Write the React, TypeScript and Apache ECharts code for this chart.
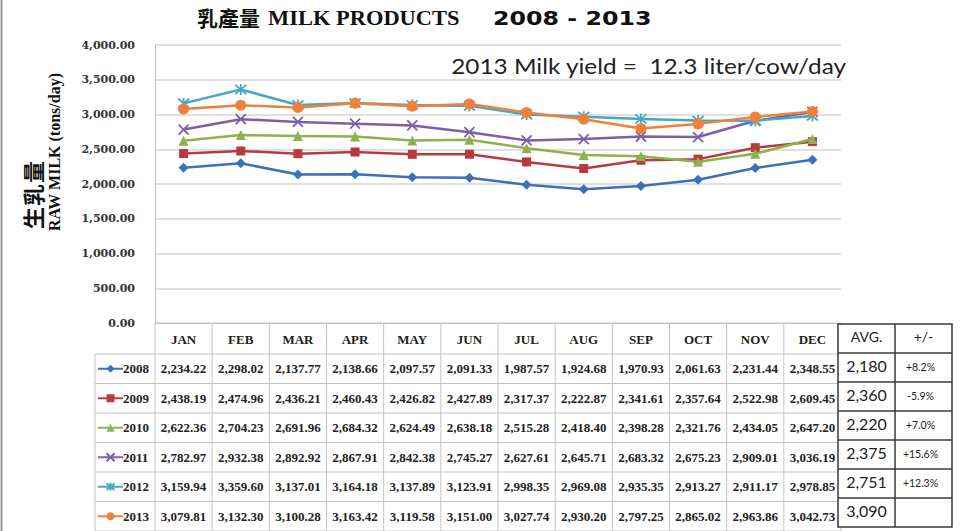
import React, { useEffect, useRef } from "react";
import * as echarts from "echarts";

const months = ["JAN", "FEB", "MAR", "APR", "MAY", "JUN", "JUL", "AUG", "SEP", "OCT", "NOV", "DEC"];
const years = ["2008", "2009", "2010", "2011", "2012", "2013"];
const s2008 = [2234.22, 2298.02, 2137.77, 2138.66, 2097.57, 2091.33, 1987.57, 1924.68, 1970.93, 2061.63, 2231.44, 2348.55];
const s2009 = [2438.19, 2474.96, 2436.21, 2460.43, 2426.82, 2427.89, 2317.37, 2222.87, 2341.61, 2357.64, 2522.98, 2609.45];
const s2010 = [2622.36, 2704.23, 2691.96, 2684.32, 2624.49, 2638.18, 2515.28, 2418.40, 2398.28, 2321.76, 2434.05, 2647.20];
const s2011 = [2782.97, 2932.38, 2892.92, 2867.91, 2842.38, 2745.27, 2627.61, 2645.71, 2683.32, 2675.23, 2909.01, 3036.19];
const s2012 = [3159.94, 3359.60, 3137.01, 3164.18, 3137.89, 3123.91, 2998.35, 2969.08, 2935.35, 2913.27, 2911.17, 2978.85];
const s2013 = [3079.81, 3132.30, 3100.28, 3163.42, 3119.58, 3151.00, 3027.74, 2930.20, 2797.25, 2865.02, 2963.86, 3042.73];
const seriesValues = [s2008, s2009, s2010, s2011, s2012, s2013];
const avgValues = [2180, 2360, 2220, 2375, 2751, 3090];
const changes = ["+8.2%", "-5.9%", "+7.0%", "+15.6%", "+12.3%", ""];
const yMin = 0;
const yMax = 4000;
const yInterval = 500;

const titleCn = "乳產量";
const titleEn = "MILK PRODUCTS";
const titleYears = "2008 - 2013";
const yNameCn = "生乳量";
const yNameEn = "RAW MILK (tons/day)";
const noteText = "2013 Milk yield =  12.3 liter/cow/day";
const avgHeader = "AVG.";
const changeHeader = "+/-";

const colors = ["#3F6FB7", "#B83A40", "#8DB14F", "#7C5FA8", "#45A9C3", "#F0803C"];
const xPath = "path://M0,0L10,10M10,0L0,10";
const starPath = "path://M0,0L10,10M10,0L0,10M5,-1L5,11";
const symbols = ["diamond", "rect", "triangle", xPath, starPath, "circle"];
const symbolSizes = [10, 9, 10, 10, 11, 11];

const W = 961;
const H = 531;
const GRID_LEFT = 155;
const GRID_RIGHT_X = 841;
const GRID_TOP = 45;
const GRID_BOTTOM_Y = 323;
const HEADER_H = 31;
const ROW_H = 29.5;
const LEGEND_LEFT = 95;
const BOX_LEFT = 838;
const BOX_MID = 895;
const BOX_RIGHT = 952;
const BOX_TOP = 324;
const BOX_ROW = 29;

const serif = "'Liberation Serif', 'Times New Roman', serif";
const wideSerif = "'DejaVu Serif', serif";
const sans = "Lato, 'Open Sans', sans-serif";
const cjk = "'Noto Sans CJK TC', 'Noto Sans CJK SC', sans-serif";
const gridGray = "#c4c4c4";

function fmt2(v: number) {
  return v.toLocaleString("en-US", { minimumFractionDigits: 2, maximumFractionDigits: 2 });
}

function txt(x: number, y: number, text: string, font: any, extra: any = {}) {
  return {
    type: "text",
    x,
    y,
    silent: true,
    z: 100,
    ...extra,
    style: {
      text,
      fill: font.fill || "#222",
      fontSize: font.size,
      fontFamily: font.family,
      fontWeight: font.weight || "normal",
      align: font.align || "center",
      textAlign: font.align || "center",
      verticalAlign: "middle",
      textVerticalAlign: "middle",
    },
  };
}

function ln(x1: number, y1: number, x2: number, y2: number, stroke: string, lineWidth: number) {
  return { type: "line", silent: true, z: 90, shape: { x1, y1, x2, y2 }, style: { stroke, lineWidth } };
}

export default function App() {
  const ref = useRef<HTMLDivElement>(null);
  useEffect(() => {
    document.body.style.margin = "0";
    const el = ref.current!;
    const chart = echarts.init(el, null, { renderer: "svg" });
    const headerBottom = GRID_BOTTOM_Y + HEADER_H;
    const option: any = {
      animation: false,
      backgroundColor: "#ffffff",
      grid: { left: GRID_LEFT, right: W - GRID_RIGHT_X, top: GRID_TOP, bottom: H - GRID_BOTTOM_Y, containLabel: false },
      legend: {
        orient: "vertical",
        left: LEGEND_LEFT + 2,
        top: headerBottom + (ROW_H - 14) / 2,
        padding: 0,
        itemWidth: 25,
        itemHeight: 10,
        itemGap: ROW_H - 14,
        selectedMode: false,
        textStyle: { fontFamily: serif, fontWeight: "bold", fontSize: 13, lineHeight: 14, color: "#222", padding: [0, 0, 0, -5] },
        data: years,
      },
      xAxis: {
        type: "category",
        data: months,
        boundaryGap: true,
        axisLine: { show: true, lineStyle: { color: gridGray, width: 1 } },
        axisTick: { show: false },
        axisLabel: { show: false },
      },
      yAxis: {
        type: "value",
        min: yMin,
        max: yMax,
        interval: yInterval,
        axisLine: { show: true, lineStyle: { color: gridGray, width: 1 } },
        axisTick: { show: false },
        splitLine: { show: true, lineStyle: { color: "#d6d6d6", width: 1.5 } },
        axisLabel: {
          margin: 20,
          formatter: (v: number) => fmt2(v),
          fontFamily: wideSerif,
          fontWeight: "bold",
          fontSize: 11,
          color: "#333",
        },
      },
      series: years.map((y, i) => ({
        name: y,
        type: "line",
        data: seriesValues[i],
        symbol: symbols[i],
        symbolSize: symbolSizes[i],
        showAllSymbol: true,
        lineStyle: { color: colors[i], width: 2.5 },
        itemStyle: { color: colors[i], borderColor: colors[i], borderWidth: i === 3 || i === 4 ? 1.8 : 0 },
        z: 2 + i,
      })),
    };
    chart.setOption(option);

    const colX = months.map((m, i) => chart.convertToPixel({ xAxisIndex: 0 }, i) as number);
    const half = (colX[1] - colX[0]) / 2;
    const g: any[] = [];

    // page left border
    g.push(ln(1.5, 0, 1.5, H, "#9c9c9c", 2));

    // table grid
    for (let i = 0; i <= months.length; i++) {
      const x = i < months.length ? colX[i] - half : colX[months.length - 1] + half;
      g.push(ln(x, GRID_BOTTOM_Y, x, H, gridGray, 1));
    }
    g.push(ln(LEGEND_LEFT, headerBottom, LEGEND_LEFT, H, gridGray, 1));
    for (let r = 0; r <= years.length; r++) {
      const y = headerBottom + r * ROW_H;
      g.push(ln(LEGEND_LEFT, y, colX[months.length - 1] + half, y, gridGray, 1));
    }
    // month header
    months.forEach((m, i) => {
      g.push(txt(colX[i], GRID_BOTTOM_Y + HEADER_H / 2 + 1, m, { size: 13, family: serif, weight: "bold" }));
    });
    // values
    seriesValues.forEach((vals, r) => {
      const yc = headerBottom + r * ROW_H + ROW_H / 2;
      vals.forEach((v, i) => {
        g.push(txt(colX[i], yc, fmt2(v), { size: 13, family: serif, weight: "bold" }));
      });
    });

    // AVG box
    const boxBottom = BOX_TOP + BOX_ROW * (years.length + 1);
    g.push({
      type: "rect",
      silent: true,
      z: 95,
      shape: { x: BOX_LEFT, y: BOX_TOP, width: BOX_RIGHT - BOX_LEFT, height: boxBottom - BOX_TOP },
      style: { fill: "#ffffff", stroke: "#3a3a3a", lineWidth: 1.5 },
    });
    g.push({ ...ln(BOX_MID, BOX_TOP, BOX_MID, boxBottom, "#3a3a3a", 1.5), z: 96 });
    for (let r = 1; r <= years.length; r++) {
      const y = BOX_TOP + r * BOX_ROW;
      g.push({ ...ln(BOX_LEFT, y, BOX_RIGHT, y, "#3a3a3a", 1.5), z: 96 });
    }
    g.push(txt((BOX_LEFT + BOX_MID) / 2, BOX_TOP + 12, avgHeader, { size: 14, family: sans }));
    g.push(txt((BOX_MID + BOX_RIGHT) / 2, BOX_TOP + 12, changeHeader, { size: 14, family: sans }));
    avgValues.forEach((v, r) => {
      const yTop = BOX_TOP + (r + 1) * BOX_ROW;
      g.push(txt((BOX_LEFT + BOX_MID) / 2, yTop + 12, v.toLocaleString("en-US"), { size: 16, family: sans }));
      if (changes[r]) {
        g.push(txt((BOX_MID + BOX_RIGHT) / 2 - 3, yTop + 14, changes[r], { size: 10.5, family: sans }));
      }
    });

    // titles
    g.push(txt(197, 17, titleCn, { size: 21, family: cjk, weight: "bold", align: "left", fill: "#111" }));
    g.push(txt(268, 18, titleEn, { size: 21, family: serif, weight: "bold", align: "left", fill: "#111" }, { scaleX: 1.07 }));
    g.push(txt(493, 18, titleYears, { size: 19, family: "'DejaVu Sans', sans-serif", weight: "bold", align: "left", fill: "#111" }, { scaleX: 1.25 }));

    // y axis names (Chinese drawn char by char, rotated, reading upward)
    const cnChars = Array.from(yNameCn);
    const cnStep = 23;
    const cnCenter = 195;
    cnChars.forEach((ch, k) => {
      const y = cnCenter + ((cnChars.length - 1) / 2 - k) * cnStep;
      g.push(txt(32, y, ch, { size: 22, family: cjk, weight: "bold", fill: "#111" }, { rotation: Math.PI / 2 }));
    });
    g.push(txt(54, 152, yNameEn, { size: 16, family: serif, weight: "bold", fill: "#111" }, { rotation: Math.PI / 2 }));

    // note
    g.push(txt(846, 66, noteText, { size: 21, family: sans, align: "right", fill: "#222" }, { scaleX: 1.16 }));

    chart.setOption({ graphic: { elements: g } });

    return () => chart.dispose();
  }, []);
  return <div ref={ref} style={{ width: W, height: H }} />;
}
